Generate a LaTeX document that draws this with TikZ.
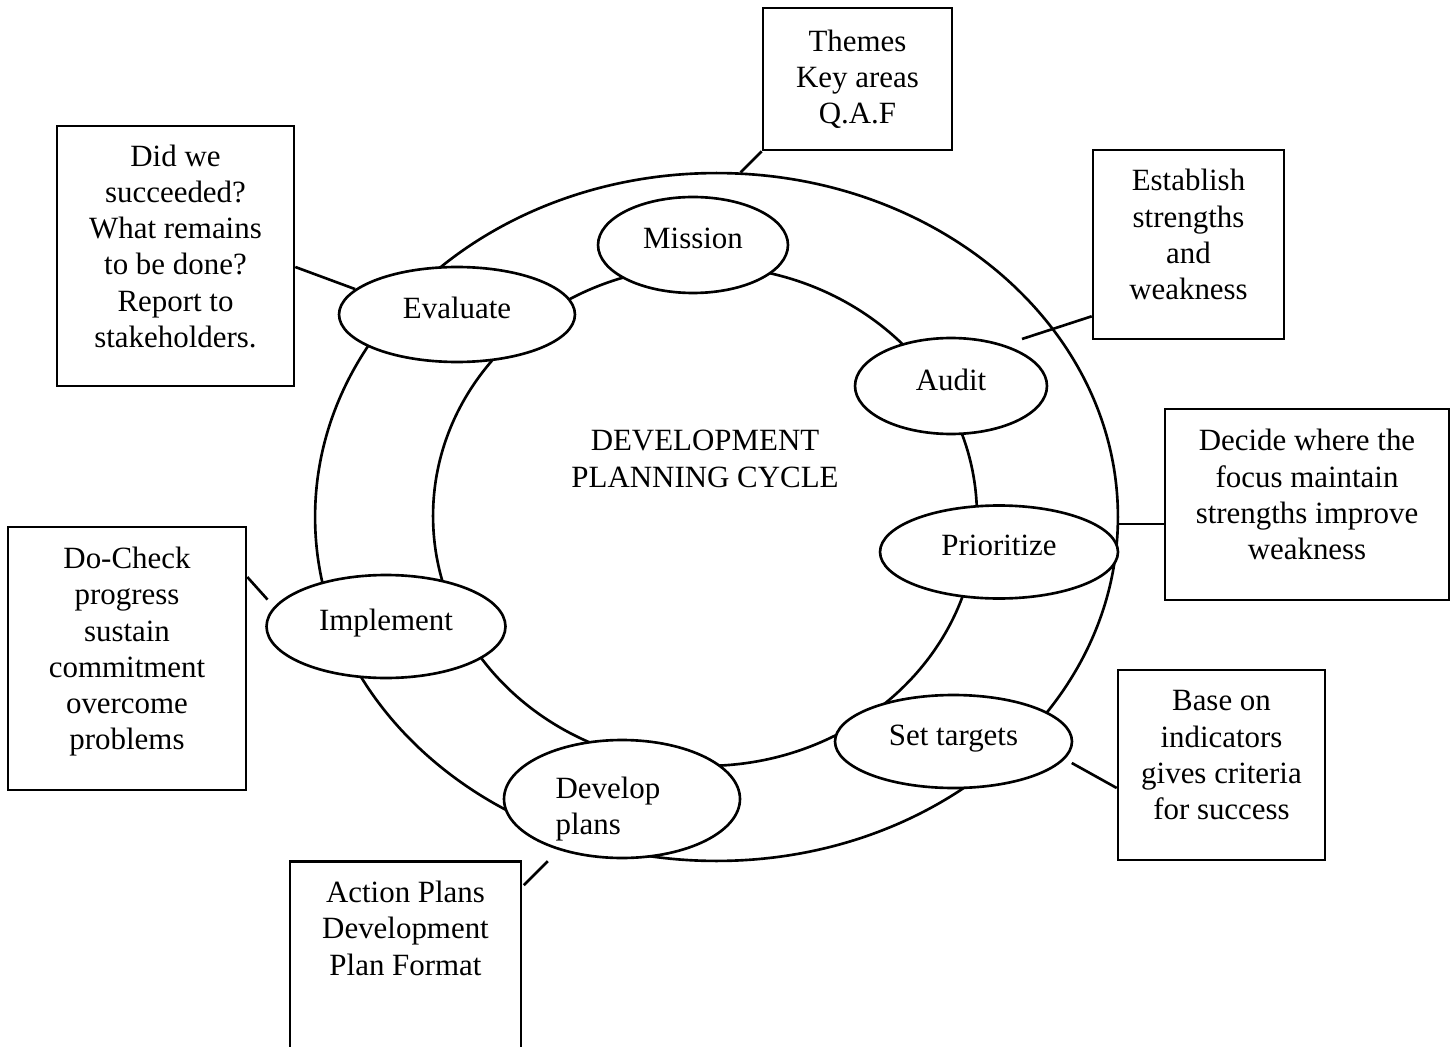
\documentclass[tikz,border=0pt]{standalone}
\usepackage{fontspec}
\setmainfont{Liberation Serif}
\usetikzlibrary{shapes.geometric}

\tikzset{
  ring/.style={ellipse, draw, line width=1.5pt, inner sep=0pt},
  stage/.style={ellipse, draw, fill=white, line width=1.5pt, inner sep=0pt, text depth=0.25cm},
  infobox/.style={rectangle, draw, line width=1.5pt, align=center, inner sep=0pt},
  raised/.style={text depth=0.4cm},
  link/.style={line width=1.5pt},
}

\begin{document}
\begin{tikzpicture}[x=0.02cm, y=-0.02cm, font=\fontsize{17.6}{20.6}\selectfont]
  \useasboundingbox (0,0) rectangle (1450,1047);

  %% -- the ring
  \node[ring, minimum width=16.06cm, minimum height=13.76cm] (outerring) at (716.5,517) {};
  \node[ring, minimum width=10.88cm, minimum height=10cm] (innerring) at (705,516) {};
  \node[align=center] (title) at (705,459) {DEVELOPMENT\\PLANNING CYCLE};

  %% -- stages
  \node[stage, minimum width=3.8cm,  minimum height=1.92cm] (mission)    at (693,245)     {Mission};
  \node[stage, minimum width=3.84cm, minimum height=1.92cm] (audit)      at (951,386)     {Audit};
  \node[stage, minimum width=4.76cm, minimum height=1.86cm] (prioritize) at (999,552)     {Prioritize};
  \node[stage, minimum width=4.74cm, minimum height=1.86cm] (settargets) at (953.5,741.5) {Set targets};
  \node[stage, minimum width=4.72cm, minimum height=2.36cm] (develop)    at (622,799)     {};
  \node[align=left] (developtext) at (608,809) {Develop\\plans};
  \node[stage, minimum width=4.78cm, minimum height=2.06cm] (implement)  at (386,626.5)   {Implement};
  \node[stage, minimum width=4.72cm, minimum height=1.9cm]  (evaluate)   at (457,314.5)   {Evaluate};

  %% -- notes
  \node[infobox, minimum width=3.78cm, minimum height=2.84cm] (themesbox)    at (857.5,79)    {Themes\\Key areas\\Q.A.F};
  \node[infobox, raised, minimum width=3.82cm, minimum height=3.78cm] (establishbox) at (1188.5,244.5) {Establish\\strengths\\and\\weakness};
  \node[infobox, raised, minimum width=5.68cm, minimum height=3.82cm] (decidebox)    at (1307,504.5)  {Decide where the\\focus maintain\\strengths improve\\weakness};
  \node[infobox, raised, minimum width=4.14cm, minimum height=3.8cm]  (basebox)      at (1221.5,765)  {Base on\\indicators\\gives criteria\\for success};
  \node[infobox, minimum width=4.62cm, inner ysep=0.4cm, text depth=3cm, anchor=north] (actionbox) at (405.5,860) {Action Plans\\Development\\Plan Format};
  \node[infobox, raised, minimum width=4.76cm, minimum height=5.26cm] (docheckbox)   at (127,658.5)   {Do-Check\\progress\\sustain\\commitment\\overcome\\problems};
  \node[infobox, raised, minimum width=4.74cm, minimum height=5.2cm]  (didbox)       at (175.5,256)   {Did we\\succeeded?\\What remains\\to be done?\\Report to\\stakeholders.};

  \coordinate (establishend) at (1022,339);

  %% -- edges
  \draw[link] (themesbox.south west) -- (outerring.86);
  \draw[link] ([yshift=0.48cm]establishbox.south west) -- (establishend);
  \draw[link] (outerring.-1.5) -- (outerring.-1.5 -| decidebox.west);
  \draw[link, shorten <=4.5pt] (settargets.-9) -- ([yshift=-0.46cm]basebox.west);
  \draw[link] (develop.219) ++(-11,11) -- ++(-24,24);
  \draw[link, shorten >=5.5pt] ([yshift=1.63cm]docheckbox.east) -- (implement.170);
  \draw[link] ([yshift=-0.22cm]didbox.east) -- (evaluate.166);

\end{tikzpicture}
\end{document}
